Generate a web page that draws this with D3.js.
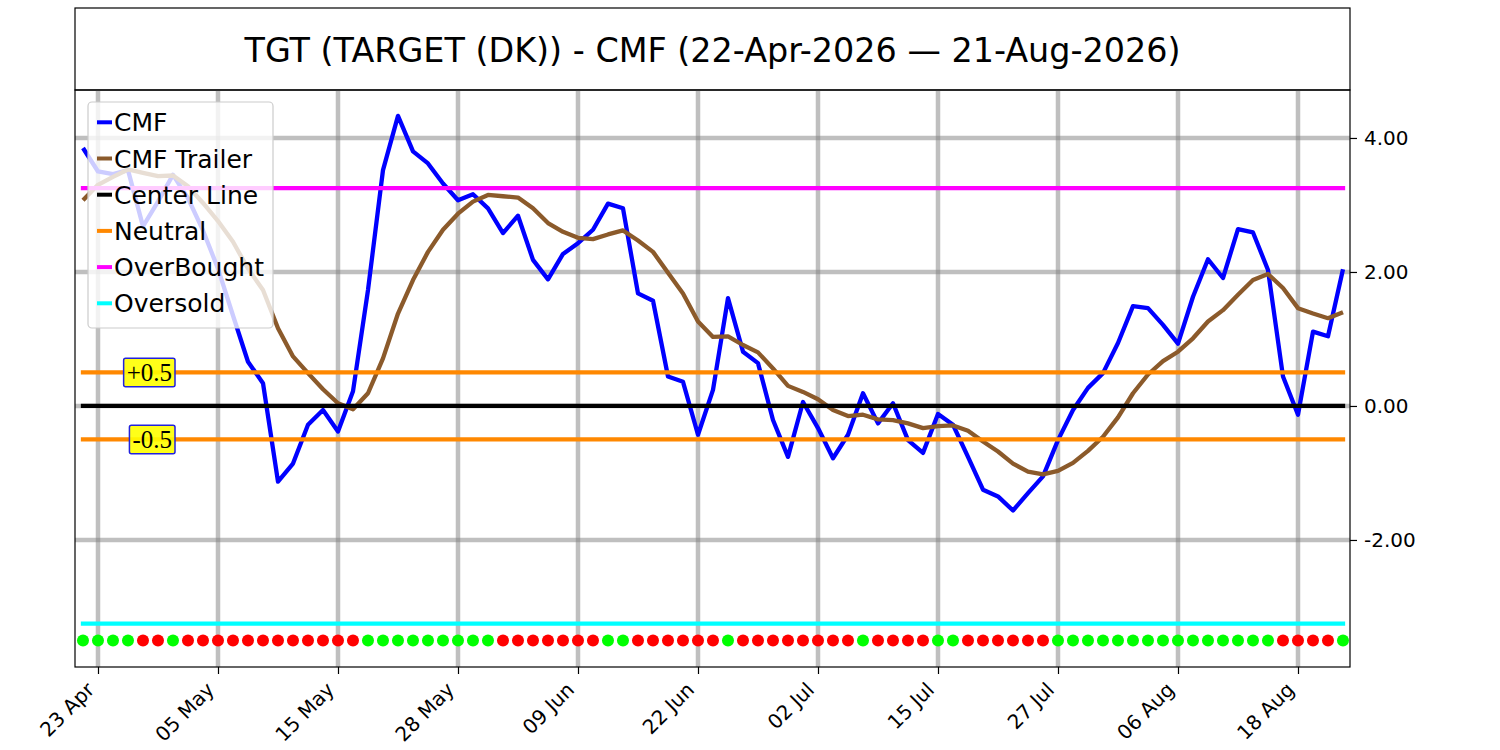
<!DOCTYPE html>
<html>
<head>
<meta charset="utf-8">
<script src="https://cdn.jsdelivr.net/npm/d3@7"></script>
<style>
  body { margin: 0; background: #fff; }
  text { font-family: "DejaVu Sans", sans-serif; }
</style>
</head>
<body>
<div id="chart"></div>
<script>
// chart data (one value per trading day, 22 Apr .. 21 Aug 2026)
var cmf = [3.85, 3.50, 3.46, 3.52, 2.68, 3.05, 3.45, 3.10, 2.62, 2.05,
    1.35, 0.66, 0.34, -1.13, -0.86, -0.28, -0.06, -0.38, 0.22, 1.73,
    3.52, 4.33, 3.80, 3.62, 3.32, 3.07, 3.16, 2.95, 2.58, 2.84,
    2.18, 1.89, 2.27, 2.43, 2.63, 3.02, 2.95, 1.68, 1.57, 0.44,
    0.36, -0.43, 0.24, 1.61, 0.81, 0.64, -0.21, -0.76, 0.06, -0.33,
    -0.78, -0.43, 0.19, -0.26, 0.04, -0.51, -0.70, -0.12, -0.28, -0.76,
    -1.25, -1.35, -1.56, -1.30, -1.05, -0.51, -0.06, 0.27, 0.49, 0.94,
    1.49, 1.46, 1.21, 0.93, 1.63, 2.19, 1.91, 2.64, 2.59, 2.03,
    0.44, -0.13, 1.11, 1.04, 2.04];

var trailer = [3.07, 3.30, 3.42, 3.53, 3.48, 3.43, 3.44, 3.28, 3.03, 2.76,
    2.45, 2.05, 1.73, 1.16, 0.74, 0.49, 0.25, 0.04, -0.05, 0.19,
    0.71, 1.38, 1.88, 2.30, 2.63, 2.87, 3.05, 3.15, 3.13, 3.11,
    2.95, 2.73, 2.60, 2.51, 2.49, 2.56, 2.62, 2.47, 2.30, 1.99,
    1.68, 1.26, 1.03, 1.04, 0.91, 0.80, 0.56, 0.30, 0.21, 0.10,
    -0.06, -0.15, -0.13, -0.20, -0.21, -0.26, -0.33, -0.30, -0.29, -0.37,
    -0.53, -0.68, -0.86, -0.98, -1.02, -0.97, -0.85, -0.67, -0.46, -0.17,
    0.19, 0.47, 0.67, 0.81, 1.01, 1.26, 1.43, 1.66, 1.88, 1.97,
    1.76, 1.46, 1.38, 1.31, 1.40];

// 1 = green dot, 0 = red dot
var signal = [1,1,1,1,0,0,1,0,0,0, 0,0,0,0,0,0,0,0,0,1,
    1,1,1,1,1,1,1,1,0,0, 0,0,0,0,0,1,1,0,0,0,
    0,0,0,1,0,0,0,0,0,0, 0,0,1,0,0,0,0,1,1,0,
    0,0,0,0,0,1,1,1,1,1, 1,1,1,1,1,1,1,1,1,1,
    0,0,0,0,1];

var tickIndex = [1, 9, 17, 25, 33, 41, 49, 57, 65, 73, 81];
var tickLabels = ["23 Apr", "05 May", "15 May", "28 May", "09 Jun", "22 Jun",
    "02 Jul", "15 Jul", "27 Jul", "06 Aug", "18 Aug"];
var yTicks = [-2, 0, 2, 4];

var centerLine = 0;
var neutral = 0.5;
var overBought = 3.25;
var overSold = -3.25;
var dotLevel = -3.5;

var title = "TGT (TARGET (DK)) - CMF (22-Apr-2026 \u2014 21-Aug-2026)";

// layout
var W = 1500, H = 750;
var plot = {left: 75, right: 1350, top: 90, bottom: 667};

var svg = d3.select("#chart")
    .append("svg")
    .attr("width", W)
    .attr("height", H);

// title box
svg.append("rect")
    .attr("x", plot.left).attr("y", 8)
    .attr("width", plot.right - plot.left).attr("height", plot.top - 8)
    .attr("fill", "none").attr("stroke", "#000").attr("stroke-width", 1.2);
svg.append("text")
    .attr("x", (plot.left + plot.right) / 2).attr("y", 62)
    .attr("text-anchor", "middle")
    .style("font-size", "33.4px")
    .text(title);

var x = d3.scaleLinear()
    .domain([-0.533, cmf.length - 1 + 0.467])
    .range([plot.left, plot.right]);

var y = d3.scaleLinear()
    .domain([-3.896, 4.716])
    .range([plot.bottom, plot.top]);

var g = svg.append("g");

// grid
g.append("g").selectAll("line")
    .data(tickIndex)
    .join("line")
    .attr("x1", d => x(d)).attr("x2", d => x(d))
    .attr("y1", plot.top).attr("y2", plot.bottom)
    .attr("stroke", "#808080").attr("stroke-opacity", 0.5).attr("stroke-width", 4.5);
g.append("g").selectAll("line")
    .data(yTicks)
    .join("line")
    .attr("x1", plot.left).attr("x2", plot.right)
    .attr("y1", d => y(d)).attr("y2", d => y(d))
    .attr("stroke", "#808080").attr("stroke-opacity", 0.5).attr("stroke-width", 4.5);

// lines
var line = d3.line()
    .x((d, i) => x(i))
    .y(d => y(d));

g.append("path")
    .datum(cmf)
    .attr("d", line)
    .attr("fill", "none")
    .attr("stroke", "#0000ff")
    .attr("stroke-width", 4.3)
    .attr("stroke-linejoin", "round");

g.append("path")
    .datum(trailer)
    .attr("d", line)
    .attr("fill", "none")
    .attr("stroke", "#8b5a2b")
    .attr("stroke-width", 4.3)
    .attr("stroke-linejoin", "round");

// level lines
var levels = [
    {v: centerLine, c: "#000000"},
    {v: neutral, c: "#ff8800"},
    {v: -neutral, c: "#ff8800"},
    {v: overBought, c: "#ff00ff"},
    {v: overSold, c: "#00ffff"}
];
g.append("g").selectAll("line")
    .data(levels)
    .join("line")
    .attr("x1", x(0)).attr("x2", x(cmf.length - 1))
    .attr("y1", d => y(d.v)).attr("y2", d => y(d.v))
    .attr("stroke", d => d.c)
    .attr("stroke-width", 4.3)
    .attr("stroke-linecap", "square");

// signal dots
g.append("g").selectAll("circle")
    .data(signal)
    .join("circle")
    .attr("cx", (d, i) => x(i))
    .attr("cy", y(dotLevel))
    .attr("r", 6)
    .attr("fill", d => d ? "#00ff00" : "#ff0000");

// frame
svg.append("rect")
    .attr("x", plot.left).attr("y", plot.top)
    .attr("width", plot.right - plot.left).attr("height", plot.bottom - plot.top)
    .attr("fill", "none").attr("stroke", "#000").attr("stroke-width", 1.2);

// y axis on the right (plain hyphen for negatives, like the reference)
var fmt = d3.format(".2f");
var yAxis = svg.append("g")
    .attr("transform", `translate(${plot.right},0)`)
    .call(d3.axisRight(y).tickValues(yTicks)
        .tickFormat(d => fmt(d).replace("\u2212", "-"))
        .tickSize(7).tickPadding(7));
yAxis.select(".domain").remove();
yAxis.selectAll("line").attr("stroke", "#000").attr("stroke-width", 1.2);
yAxis.selectAll("text").style("font-size", "20px").attr("fill", "#000").attr("font-family", null);

// x axis
var xAxis = svg.append("g")
    .attr("transform", `translate(0,${plot.bottom})`)
    .call(d3.axisBottom(x).tickValues(tickIndex).tickFormat((d, i) => tickLabels[i]).tickSize(7));
xAxis.select(".domain").remove();
xAxis.selectAll("line").attr("stroke", "#000").attr("stroke-width", 1.2);
xAxis.selectAll("text")
    .attr("x", null).attr("y", null).attr("dy", null)
    .attr("text-anchor", "end")
    .attr("transform", "translate(-3,24) rotate(-45)")
    .style("font-size", "20px")
    .attr("fill", "#000")
    .attr("font-family", null);

// +0.5 / -0.5 labels
var notes = [{t: "+0.5", v: neutral}, {t: "-0.5", v: -neutral}];
notes.forEach(function(n) {
    var ng = svg.append("g");
    var box = ng.append("rect");
    var txt = ng.append("text")
        .attr("x", 172).attr("y", y(n.v))
        .attr("dy", "0.33em")
        .attr("text-anchor", "end")
        .style("font-family", "'Liberation Serif', serif")
        .style("font-size", "25px")
        .text(n.t);
    var b = txt.node().getBBox();
    box.attr("x", b.x - 3).attr("y", b.y - 0.5)
        .attr("width", b.width + 6).attr("height", b.height + 1.5)
        .attr("rx", 2)
        .attr("fill", "#ffff00").attr("fill-opacity", 0.9)
        .attr("stroke", "#2222dd").attr("stroke-width", 1.5);
});

// legend
var legendItems = [
    {t: "CMF", c: "#0000ff"},
    {t: "CMF Trailer", c: "#8b5a2b"},
    {t: "Center Line", c: "#000000"},
    {t: "Neutral", c: "#ff8800"},
    {t: "OverBought", c: "#ff00ff"},
    {t: "Oversold", c: "#00ffff"}
];
var lg = svg.append("g");
lg.append("rect")
    .attr("x", 88).attr("y", 102)
    .attr("width", 185).attr("height", 226)
    .attr("rx", 4)
    .attr("fill", "#fff").attr("fill-opacity", 0.8)
    .attr("stroke", "#cccccc").attr("stroke-width", 1.2);
var li = lg.selectAll("g.item")
    .data(legendItems)
    .join("g")
    .attr("class", "item")
    .attr("transform", (d, i) => `translate(0,${122.3 + i * 36.2})`);
li.append("line")
    .attr("x1", 97).attr("x2", 112)
    .attr("stroke", d => d.c).attr("stroke-width", 4);
li.append("text")
    .attr("x", 114).attr("dy", "0.36em")
    .style("font-size", "25px")
    .text(d => d.t);
</script>
</body>
</html>
